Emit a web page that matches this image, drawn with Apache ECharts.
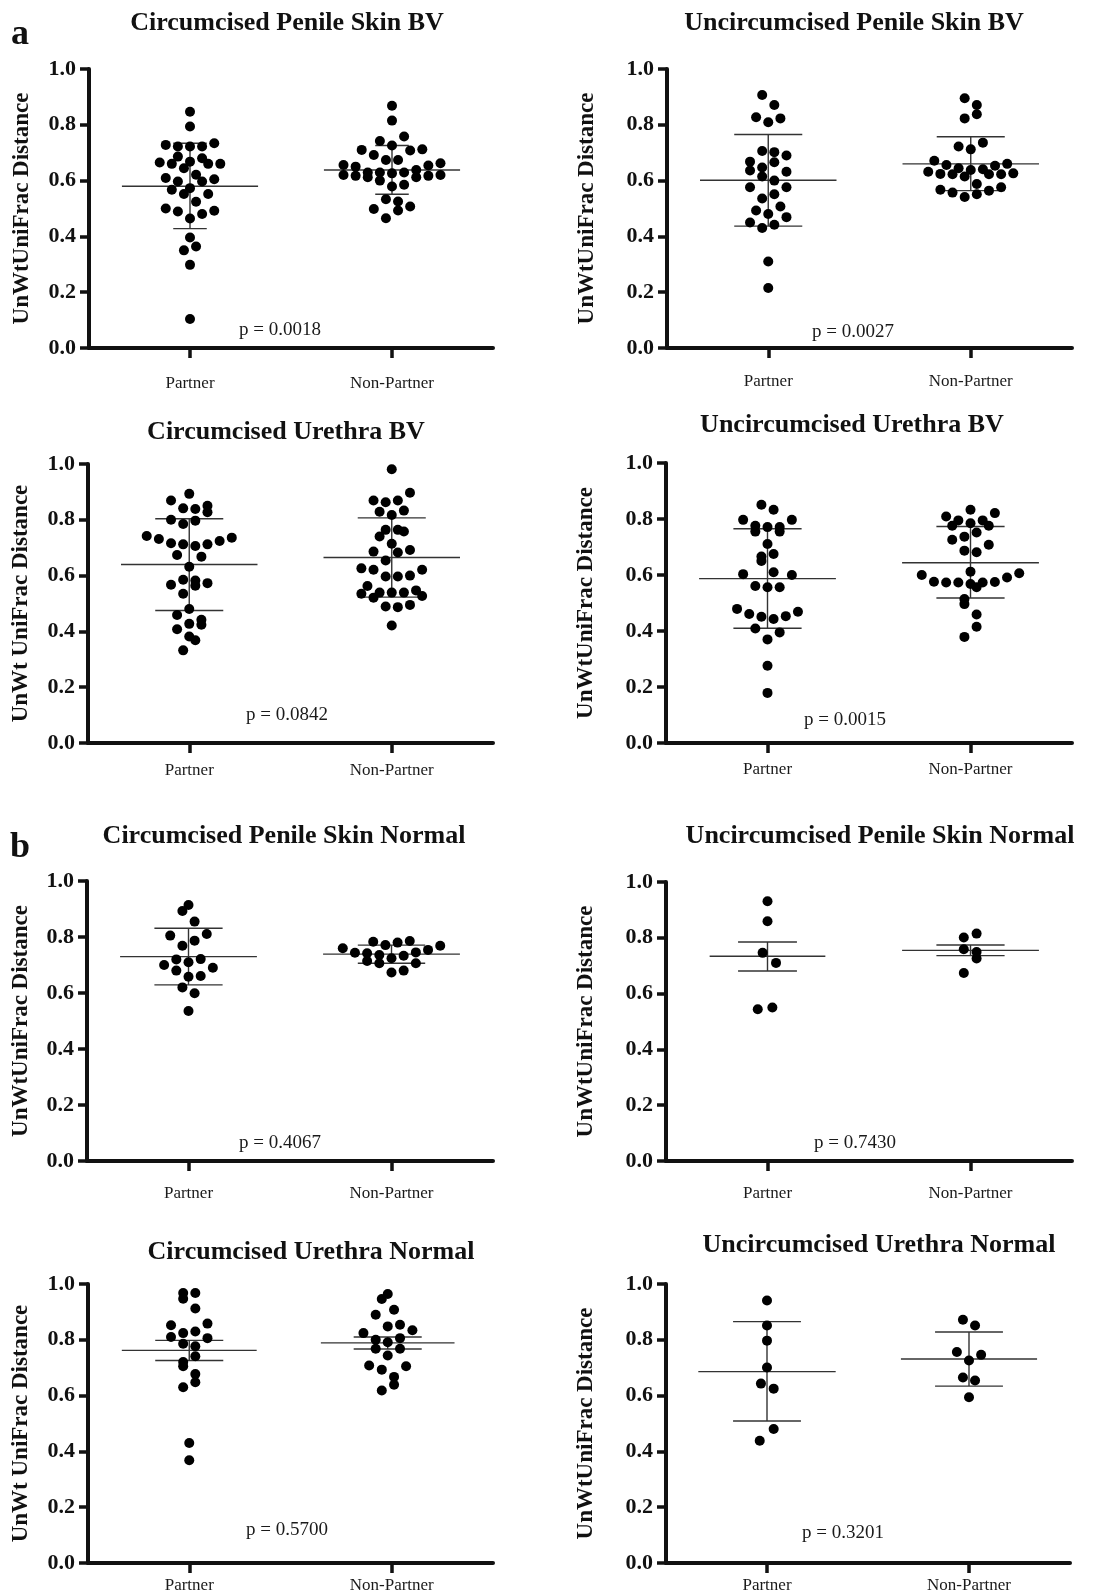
<!DOCTYPE html>
<html>
<head>
<meta charset="utf-8">
<script src="https://cdn.jsdelivr.net/npm/echarts@6/dist/echarts.min.js"></script>
<style>
  html, body { margin: 0; padding: 0; background: #fff; }
  #chart { width: 1099px; height: 1595px; }
</style>
</head>
<body>
<div id="chart"></div>
<script>
// ---- data ----
const categories = ['Partner', 'Non-Partner'];
const yTicks = [0, 0.2, 0.4, 0.6, 0.8, 1.0];
const panelTitles = [
  'Circumcised Penile Skin BV', 'Uncircumcised Penile Skin BV',
  'Circumcised Urethra BV', 'Uncircumcised Urethra BV',
  'Circumcised Penile Skin Normal', 'Uncircumcised Penile Skin Normal',
  'Circumcised Urethra Normal', 'Uncircumcised Urethra Normal'
];
const yAxisNames = [
  'UnWtUniFrac Distance', 'UnWtUniFrac Distance',
  'UnWt UniFrac Distance', 'UnWtUniFrac Distance',
  'UnWtUniFrac Distance', 'UnWtUniFrac Distance',
  'UnWt UniFrac Distance', 'UnWtUniFrac Distance'
];
const pValues = ['p = 0.0018', 'p = 0.0027', 'p = 0.0842', 'p = 0.0015',
                 'p = 0.4067', 'p = 0.7430', 'p = 0.5700', 'p = 0.3201'];

// circumcised penile skin BV
const cpsBvPartner = [0.847, 0.794, 0.728, 0.722, 0.722, 0.722, 0.734, 0.686, 0.680, 0.665, 0.660, 0.668, 0.660, 0.660, 0.644, 0.609, 0.621, 0.597, 0.597, 0.605, 0.573, 0.567, 0.552, 0.552, 0.524, 0.500, 0.489, 0.492, 0.480, 0.464, 0.396, 0.364, 0.350, 0.298, 0.104];
const cpsBvPartnerCols = [0, 0, -2, -1, 0, 1, 2, -1, 1, -2.5, -1.5, 0, 1.5, 2.5, -0.5, -2, 0.5, -1, 1, 2, 0, -1.5, -0.5, 1.5, 0.5, -2, -1, 2, 1, 0, 0, 0.5, -0.5, 0, 0];
const cpsBvNon = [0.868, 0.815, 0.742, 0.758, 0.726, 0.710, 0.692, 0.674, 0.674, 0.708, 0.712, 0.656, 0.650, 0.654, 0.662, 0.638, 0.620, 0.617, 0.629, 0.612, 0.629, 0.600, 0.626, 0.629, 0.612, 0.617, 0.620, 0.579, 0.585, 0.533, 0.525, 0.498, 0.493, 0.507, 0.465];
const cpsBvNonCols = [0, 0, -1, 1, 0, -2.5, -1.5, -0.5, 0.5, 1.5, 2.5, -4, -3, 3, 4, 2, -4, -3, -2, -2, -1, -1, 0, 1, 2, 3, 4, 0, 1, -0.5, 0.5, -1.5, 0.5, 1.5, -0.5];

// uncircumcised penile skin BV
const upsBvPartner = [0.907, 0.871, 0.827, 0.809, 0.823, 0.706, 0.702, 0.690, 0.668, 0.647, 0.666, 0.636, 0.615, 0.632, 0.600, 0.576, 0.576, 0.551, 0.536, 0.507, 0.493, 0.480, 0.469, 0.450, 0.430, 0.442, 0.310, 0.215];
const upsBvPartnerCols = [-0.5, 0.5, -1, 0, 1, -0.5, 0.5, 1.5, -1.5, -0.5, 0.5, -1.5, -0.5, 1.5, 0.5, -1.5, 1.5, 0.5, -0.5, 1, -1, 0, 1.5, -1.5, -0.5, 0.5, 0, 0];
const upsBvNon = [0.895, 0.871, 0.823, 0.838, 0.722, 0.712, 0.736, 0.671, 0.656, 0.644, 0.638, 0.641, 0.653, 0.660, 0.632, 0.624, 0.623, 0.615, 0.623, 0.623, 0.626, 0.588, 0.567, 0.557, 0.541, 0.551, 0.564, 0.576];
const upsBvNonCols = [-0.5, 0.5, -0.5, 0.5, -1, 0, 1, -3, -2, -1, 0, 1, 2, 3, -3.5, -2.5, -1.5, -0.5, 1.5, 2.5, 3.5, 0.5, -2.5, -1.5, -0.5, 0.5, 1.5, 2.5];

// circumcised urethra BV
const cuBvPartner = [0.893, 0.869, 0.841, 0.839, 0.850, 0.827, 0.800, 0.797, 0.785, 0.742, 0.731, 0.716, 0.712, 0.706, 0.712, 0.724, 0.736, 0.674, 0.668, 0.632, 0.585, 0.582, 0.564, 0.567, 0.573, 0.535, 0.480, 0.459, 0.442, 0.424, 0.427, 0.408, 0.382, 0.368, 0.332];
const cuBvPartnerCols = [0, -1.5, -0.5, 0.5, 1.5, 1.5, -1.5, 0.5, -0.5, -3.5, -2.5, -1.5, -0.5, 0.5, 1.5, 2.5, 3.5, -1, 1, 0, -0.5, 0.5, 0.5, -1.5, 1.5, -0.5, 0, -1, 1, 1, 0, -1, 0, 0.5, -0.5];
const cuBvNon = [0.981, 0.897, 0.869, 0.863, 0.869, 0.829, 0.817, 0.833, 0.764, 0.764, 0.758, 0.740, 0.714, 0.686, 0.683, 0.692, 0.654, 0.626, 0.621, 0.621, 0.597, 0.597, 0.600, 0.563, 0.535, 0.539, 0.539, 0.539, 0.547, 0.521, 0.527, 0.489, 0.487, 0.495, 0.421];
const cuBvNonCols = [0, 1.5, -1.5, -0.5, 0.5, -1, 0, 1, -0.5, 0.5, 1, -1, 0, -1.5, 0.5, 1.5, -0.5, -2.5, -1.5, 2.5, -0.5, 0.5, 1.5, -2, -2.5, -1, 0, 1, 2, -1.5, 2.5, -0.5, 0.5, 1.5, 0];

// uncircumcised urethra BV
const uuBvPartner = [0.851, 0.833, 0.797, 0.797, 0.776, 0.771, 0.771, 0.755, 0.755, 0.711, 0.666, 0.650, 0.675, 0.603, 0.610, 0.600, 0.561, 0.556, 0.556, 0.479, 0.461, 0.451, 0.443, 0.453, 0.469, 0.409, 0.395, 0.370, 0.276, 0.179];
const uuBvPartnerCols = [-0.5, 0.5, -2, 2, -1, 0, 1, -1, 1, 0, -0.5, -0.5, 0.5, -2, 0.5, 2, -1, 0, 1, -2.5, -1.5, -0.5, 0.5, 1.5, 2.5, -1, 1, 0, 0, 0];
const uuBvNon = [0.833, 0.821, 0.809, 0.795, 0.795, 0.785, 0.776, 0.776, 0.737, 0.752, 0.726, 0.708, 0.687, 0.681, 0.600, 0.606, 0.612, 0.576, 0.573, 0.573, 0.568, 0.573, 0.556, 0.575, 0.591, 0.514, 0.496, 0.459, 0.415, 0.379];
const uuBvNonCols = [0, 2, -2, -1, 1, 0, -1.5, 1.5, -0.5, 0.5, -1.5, 1.5, -0.5, 0.5, -4, 4, 0, -3, -2, -1, 0, 1, 0.5, 2, 3, -0.5, -0.5, 0.5, 0.5, -0.5];

// circumcised penile skin normal
const cpsNPartner = [0.914, 0.893, 0.855, 0.805, 0.787, 0.811, 0.769, 0.720, 0.721, 0.700, 0.710, 0.690, 0.680, 0.658, 0.661, 0.620, 0.599, 0.536];
const cpsNPartnerCols = [0, -0.5, 0.5, -1.5, 0.5, 1.5, -0.5, -1, 1, -2, 0, 2, -1, 0, 1, -0.5, 0.5, 0];
const cpsNNon = [0.783, 0.771, 0.780, 0.786, 0.760, 0.744, 0.742, 0.736, 0.724, 0.733, 0.745, 0.754, 0.769, 0.714, 0.706, 0.706, 0.673, 0.680];
const cpsNNonCols = [-1.5, -0.5, 0.5, 1.5, -4, -3, -2, -1, 0, 1, 2, 3, 4, -2, -1, 2, 0, 1];

// uncircumcised penile skin normal
const upsNPartner = [0.931, 0.859, 0.746, 0.710, 0.544, 0.550];
const upsNPartnerCols = [0, 0, -0.4, 0.7, -0.8, 0.4];
const upsNNon = [0.801, 0.815, 0.759, 0.749, 0.726, 0.674];
const upsNNonCols = [-0.55, 0.5, -0.55, 0.5, 0.5, -0.55];

// circumcised urethra normal
const cuNPartner = [0.968, 0.968, 0.947, 0.912, 0.852, 0.858, 0.824, 0.830, 0.810, 0.806, 0.786, 0.777, 0.741, 0.720, 0.705, 0.677, 0.648, 0.630, 0.430, 0.368];
const cuNPartnerCols = [-0.5, 0.5, -0.5, 0.5, -1.5, 1.5, -0.5, 0.5, -1.5, 1.5, -0.5, 0.5, 0.5, -0.5, -0.5, 0.5, 0.5, -0.5, 0, 0];
const cuNNon = [0.964, 0.946, 0.908, 0.890, 0.848, 0.854, 0.824, 0.834, 0.800, 0.791, 0.806, 0.768, 0.768, 0.744, 0.708, 0.693, 0.705, 0.667, 0.639, 0.618];
const cuNNonCols = [-0.33, -0.82, 0.19, -1.32, -0.33, 0.68, -2.33, 1.7, -1.32, -0.33, 0.68, -1.32, 0.68, -0.33, -1.86, -0.82, 1.18, 0.19, 0.19, -0.82];

// uncircumcised urethra normal
const uuNPartner = [0.941, 0.851, 0.797, 0.701, 0.643, 0.625, 0.480, 0.438];
const uuNPartnerCols = [0, 0, 0, 0, -0.5, 0.55, 0.55, -0.6];
const uuNNon = [0.872, 0.851, 0.756, 0.746, 0.726, 0.665, 0.654, 0.594];
const uuNNonCols = [-0.5, 0.5, -1, 1, 0, -0.5, 0.5, 0];

// mean and error bar ends, [partner, non-partner] per panel
const means = [[0.580, 0.638], [0.601, 0.660], [0.640, 0.665], [0.587, 0.644],
               [0.730, 0.739], [0.734, 0.755], [0.762, 0.789], [0.686, 0.731]];
const errLow = [[0.428, 0.551], [0.437, 0.564], [0.475, 0.523], [0.410, 0.518],
                [0.629, 0.706], [0.681, 0.736], [0.726, 0.767], [0.509, 0.634]];
const errHigh = [[0.734, 0.726], [0.765, 0.757], [0.804, 0.807], [0.765, 0.773],
                 [0.831, 0.771], [0.785, 0.774], [0.798, 0.810], [0.865, 0.828]];

const groups = [
  [cpsBvPartner, cpsBvPartnerCols, cpsBvNon, cpsBvNonCols],
  [upsBvPartner, upsBvPartnerCols, upsBvNon, upsBvNonCols],
  [cuBvPartner, cuBvPartnerCols, cuBvNon, cuBvNonCols],
  [uuBvPartner, uuBvPartnerCols, uuBvNon, uuBvNonCols],
  [cpsNPartner, cpsNPartnerCols, cpsNNon, cpsNNonCols],
  [upsNPartner, upsNPartnerCols, upsNNon, upsNNonCols],
  [cuNPartner, cuNPartnerCols, cuNNon, cuNNonCols],
  [uuNPartner, uuNPartnerCols, uuNNon, uuNNonCols]
];

// ---- layout ----
const FONT = "'Liberation Serif', 'Times New Roman', serif";
const INK = '#000';
const colStep = 0.06;           // one dot column, in x-axis units
const gridBoxes = [
  [89, 69, 404, 279], [667, 69, 405, 279],
  [88, 464, 405, 279], [666, 463, 406, 280],
  [87, 881, 406, 280], [666, 882, 406, 279],
  [88, 1284, 405, 279], [666, 1284, 404, 279]
];
const titlePos = [[287, 23], [854, 23], [286, 432], [852, 425],
                  [284, 836], [880, 836], [311, 1252], [879, 1245]];
const pPos = [[280, 330], [853, 332], [287, 715], [845, 720],
              [280, 1143], [855, 1143], [287, 1530], [843, 1533]];
const labelMargin = [27, 25, 19, 18, 24, 24, 14, 14];
const nameGap = [55, 68, 55, 68, 54, 68, 55, 68];
// half widths of mean line and caps, x-axis units
const meanHalf = [[0.337, 0.337], [0.337, 0.337], [0.337, 0.337], [0.337, 0.337],
                  [0.337, 0.337], [0.285, 0.337], [0.333, 0.33], [0.34, 0.337]];
const capHalf = [[0.083, 0.083], [0.168, 0.168], [0.168, 0.168], [0.168, 0.168],
                 [0.168, 0.166], [0.145, 0.168], [0.168, 0.168], [0.168, 0.168]];
const centerShift = [[0, 0], [0, 0], [0, 0], [0, 0], [0, 0], [0, 0], [0, -0.02], [0, 0]];

const chart = echarts.init(document.getElementById('chart'));

const grid = [], xAxis = [], yAxis = [], series = [], graphics = [];

gridBoxes.forEach((b, i) => {
  grid.push({ left: b[0], top: b[1], width: b[2], height: b[3] });
  xAxis.push({
    gridIndex: i, type: 'value', min: -0.5, max: 1.5,
    axisLine: { onZero: false, lineStyle: { color: '#111', width: 4 } },
    axisTick: { customValues: [0, 1], length: 10, lineStyle: { color: '#111', width: 3.5 } },
    axisLabel: {
      customValues: [0, 1], margin: labelMargin[i],
      formatter: v => categories[Math.round(v)],
      fontFamily: FONT, fontSize: 17, color: '#1a1a1a'
    },
    splitLine: { show: false }
  });
  yAxis.push({
    gridIndex: i, type: 'value', min: 0, max: 1, interval: 0.2,
    name: yAxisNames[i], nameLocation: 'middle', nameGap: nameGap[i],
    nameTextStyle: { fontFamily: FONT, fontSize: 23, fontWeight: 'bold', color: '#111' },
    axisLine: { show: true, onZero: false, lineStyle: { color: '#111', width: 4 } },
    axisTick: { show: true, length: 9, lineStyle: { color: '#111', width: 3.5 } },
    axisLabel: {
      margin: 13, fontFamily: FONT, fontSize: 22, fontWeight: 'bold', color: '#111',
      formatter: v => yTicks.includes(+v.toFixed(1)) ? v.toFixed(1) : ''
    },
    splitLine: { show: false }
  });

  const [pv, pc, nv, nc] = groups[i];
  series.push({
    type: 'custom', xAxisIndex: i, yAxisIndex: i, z: 2,
    data: [0, 1].map(g => [g + centerShift[i][g], means[i][g], errLow[i][g], errHigh[i][g],
                           meanHalf[i][g], capHalf[i][g]]),
    renderItem: (params, api) => {
      const x = api.value(0), m = api.value(1), lo = api.value(2), hi = api.value(3);
      const mh = api.value(4), ch = api.value(5);
      const style = { stroke: '#333', lineWidth: 1.4 };
      const seg = (x1, y1, x2, y2) => {
        const a = api.coord([x1, y1]), b = api.coord([x2, y2]);
        return { type: 'line', shape: { x1: a[0], y1: a[1], x2: b[0], y2: b[1] }, style };
      };
      return {
        type: 'group',
        children: [
          seg(x - mh, m, x + mh, m),
          seg(x, lo, x, hi),
          seg(x - ch, lo, x + ch, lo),
          seg(x - ch, hi, x + ch, hi)
        ]
      };
    }
  });
  [[pv, pc, 0], [nv, nc, 1]].forEach(([vals, cols, g]) => {
    series.push({
      type: 'scatter', xAxisIndex: i, yAxisIndex: i, z: 3,
      symbol: 'circle', symbolSize: 10,
      itemStyle: { color: INK, opacity: 1 },
      data: vals.map((v, k) => [g + cols[k] * colStep, v])
    });
  });

  graphics.push({
    type: 'text', x: titlePos[i][0], y: titlePos[i][1],
    style: { text: panelTitles[i], fill: '#111', align: 'center', verticalAlign: 'middle',
             font: `bold 26px ${FONT}` }
  });
  graphics.push({
    type: 'text', x: pPos[i][0], y: pPos[i][1],
    style: { text: pValues[i], fill: '#1a1a1a', align: 'center', verticalAlign: 'middle',
             font: `19px ${FONT}` }
  });
});

graphics.push({ type: 'text', x: 20, y: 35,
  style: { text: 'a', fill: '#111', align: 'center', verticalAlign: 'middle', font: `bold 36px ${FONT}` } });
graphics.push({ type: 'text', x: 20, y: 848,
  style: { text: 'b', fill: '#111', align: 'center', verticalAlign: 'middle', font: `bold 36px ${FONT}` } });

chart.setOption({
  backgroundColor: '#fff',
  animation: false,
  grid, xAxis, yAxis, series,
  graphic: graphics
});
</script>
</body>
</html>
